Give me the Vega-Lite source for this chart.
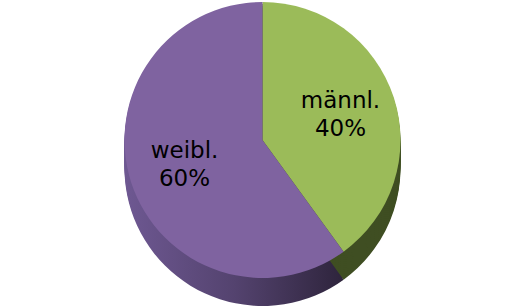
{
  "$schema": "https://vega.github.io/schema/vega-lite/v6.json",
  "width": 525,
  "height": 308,
  "autosize": {"type": "fit", "contains": "padding"},
  "background": "white",
  "config": {"view": {"stroke": null}, "arc": {"outerRadius": 138, "stroke": null}},
  "data": {"values": [
    {"gender": "männl.", "share": 0.4},
    {"gender": "weibl.", "share": 0.6}
  ]},
  "layer": [
    {
      "transform": [
        {"stack": "share", "groupby": [], "sort": [{"field": "gender", "order": "ascending"}], "as": ["s0", "s1"]},
        {"filter": "datum.gender === 'weibl.'"}
      ],
      "encoding": {
        "theta": {"field": "s0", "type": "quantitative", "scale": {"domain": [0, 1]}},
        "theta2": {"field": "s1"}
      },
      "layer": [
        {"mark": {"type": "arc", "yOffset": 14, "fill": {"gradient": "linear", "x1": 0, "y1": 0, "x2": 1, "y2": 0, "stops": [{"offset": 0, "color": "#6E5892"}, {"offset": 0.5, "color": "#54436F"}, {"offset": 1, "color": "#2E243C"}]}}},
        {"mark": {"type": "arc", "yOffset": 12, "fill": {"gradient": "linear", "x1": 0, "y1": 0, "x2": 1, "y2": 0, "stops": [{"offset": 0, "color": "#6E5892"}, {"offset": 0.5, "color": "#54436F"}, {"offset": 1, "color": "#2E243C"}]}}},
        {"mark": {"type": "arc", "yOffset": 10, "fill": {"gradient": "linear", "x1": 0, "y1": 0, "x2": 1, "y2": 0, "stops": [{"offset": 0, "color": "#6E5892"}, {"offset": 0.5, "color": "#54436F"}, {"offset": 1, "color": "#2E243C"}]}}},
        {"mark": {"type": "arc", "yOffset": 8, "fill": {"gradient": "linear", "x1": 0, "y1": 0, "x2": 1, "y2": 0, "stops": [{"offset": 0, "color": "#6E5892"}, {"offset": 0.5, "color": "#54436F"}, {"offset": 1, "color": "#2E243C"}]}}},
        {"mark": {"type": "arc", "yOffset": 6, "fill": {"gradient": "linear", "x1": 0, "y1": 0, "x2": 1, "y2": 0, "stops": [{"offset": 0, "color": "#6E5892"}, {"offset": 0.5, "color": "#54436F"}, {"offset": 1, "color": "#2E243C"}]}}},
        {"mark": {"type": "arc", "yOffset": 4, "fill": {"gradient": "linear", "x1": 0, "y1": 0, "x2": 1, "y2": 0, "stops": [{"offset": 0, "color": "#6E5892"}, {"offset": 0.5, "color": "#54436F"}, {"offset": 1, "color": "#2E243C"}]}}},
        {"mark": {"type": "arc", "yOffset": 2, "fill": {"gradient": "linear", "x1": 0, "y1": 0, "x2": 1, "y2": 0, "stops": [{"offset": 0, "color": "#6E5892"}, {"offset": 0.5, "color": "#54436F"}, {"offset": 1, "color": "#2E243C"}]}}},
        {"mark": {"type": "arc", "yOffset": 0, "fill": {"gradient": "linear", "x1": 0, "y1": 0, "x2": 1, "y2": 0, "stops": [{"offset": 0, "color": "#6E5892"}, {"offset": 0.5, "color": "#54436F"}, {"offset": 1, "color": "#2E243C"}]}}},
        {"mark": {"type": "arc", "yOffset": -2, "fill": {"gradient": "linear", "x1": 0, "y1": 0, "x2": 1, "y2": 0, "stops": [{"offset": 0, "color": "#6E5892"}, {"offset": 0.5, "color": "#54436F"}, {"offset": 1, "color": "#2E243C"}]}}},
        {"mark": {"type": "arc", "yOffset": -4, "fill": {"gradient": "linear", "x1": 0, "y1": 0, "x2": 1, "y2": 0, "stops": [{"offset": 0, "color": "#6E5892"}, {"offset": 0.5, "color": "#54436F"}, {"offset": 1, "color": "#2E243C"}]}}},
        {"mark": {"type": "arc", "yOffset": -6, "fill": {"gradient": "linear", "x1": 0, "y1": 0, "x2": 1, "y2": 0, "stops": [{"offset": 0, "color": "#6E5892"}, {"offset": 0.5, "color": "#54436F"}, {"offset": 1, "color": "#2E243C"}]}}},
        {"mark": {"type": "arc", "yOffset": -8, "fill": {"gradient": "linear", "x1": 0, "y1": 0, "x2": 1, "y2": 0, "stops": [{"offset": 0, "color": "#6E5892"}, {"offset": 0.5, "color": "#54436F"}, {"offset": 1, "color": "#2E243C"}]}}},
        {"mark": {"type": "arc", "yOffset": -10, "fill": {"gradient": "linear", "x1": 0, "y1": 0, "x2": 1, "y2": 0, "stops": [{"offset": 0, "color": "#6E5892"}, {"offset": 0.5, "color": "#54436F"}, {"offset": 1, "color": "#2E243C"}]}}},
        {"mark": {"type": "arc", "yOffset": -12, "fill": {"gradient": "linear", "x1": 0, "y1": 0, "x2": 1, "y2": 0, "stops": [{"offset": 0, "color": "#6E5892"}, {"offset": 0.5, "color": "#54436F"}, {"offset": 1, "color": "#2E243C"}]}}}
      ]
    },
    {
      "transform": [
        {"stack": "share", "groupby": [], "sort": [{"field": "gender", "order": "ascending"}], "as": ["s0", "s1"]},
        {"filter": "datum.gender === 'männl.'"}
      ],
      "encoding": {
        "theta": {"field": "s0", "type": "quantitative", "scale": {"domain": [0, 1]}},
        "theta2": {"field": "s1"}
      },
      "layer": [
        {"mark": {"type": "arc", "yOffset": 14, "fill": "#3F4E22"}},
        {"mark": {"type": "arc", "yOffset": 12, "fill": "#3F4E22"}},
        {"mark": {"type": "arc", "yOffset": 10, "fill": "#3F4E22"}},
        {"mark": {"type": "arc", "yOffset": 8, "fill": "#3F4E22"}},
        {"mark": {"type": "arc", "yOffset": 6, "fill": "#3F4E22"}},
        {"mark": {"type": "arc", "yOffset": 4, "fill": "#3F4E22"}},
        {"mark": {"type": "arc", "yOffset": 2, "fill": "#3F4E22"}},
        {"mark": {"type": "arc", "yOffset": 0, "fill": "#3F4E22"}},
        {"mark": {"type": "arc", "yOffset": -2, "fill": "#3F4E22"}},
        {"mark": {"type": "arc", "yOffset": -4, "fill": "#3F4E22"}},
        {"mark": {"type": "arc", "yOffset": -6, "fill": "#3F4E22"}},
        {"mark": {"type": "arc", "yOffset": -8, "fill": "#3F4E22"}},
        {"mark": {"type": "arc", "yOffset": -10, "fill": "#3F4E22"}},
        {"mark": {"type": "arc", "yOffset": -12, "fill": "#3F4E22"}}
      ]
    },
    {
      "encoding": {
        "theta": {"field": "share", "type": "quantitative", "stack": true, "scale": {"domain": [0, 1]}},
        "order": {"field": "gender", "sort": "ascending"}
      },
      "layer": [
        {"mark": {"type": "arc", "yOffset": -14},
         "encoding": {"color": {"field": "gender", "type": "nominal", "legend": null,
           "scale": {"domain": ["männl.", "weibl."], "range": ["#9BBB59", "#7F63A0"]}}}},
        {"mark": {"type": "text", "radius": 82, "yOffset": -28, "font": "DejaVu Sans", "fontSize": 23, "color": "#000000"},
         "encoding": {"text": {"field": "gender", "type": "nominal"}}},
        {"mark": {"type": "text", "radius": 82, "yOffset": 0, "font": "DejaVu Sans", "fontSize": 23, "color": "#000000"},
         "encoding": {"text": {"field": "share", "type": "quantitative", "format": ".0%"}}}
      ]
    }
  ]
}
